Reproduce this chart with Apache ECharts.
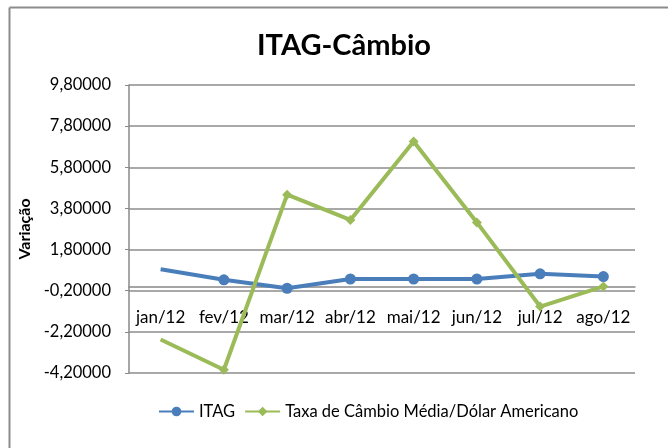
<!DOCTYPE html>
<html><head><meta charset="utf-8">
<script src="https://cdn.jsdelivr.net/npm/echarts@6/dist/echarts.min.js"></script>
<style>html,body{margin:0;padding:0;background:#fff}#c{width:668px;height:448px}</style>
</head><body><div id="c"></div>
<script>
const categories = ['jan/12','fev/12','mar/12','abr/12','mai/12','jun/12','jul/12','ago/12'];
const itag = [0.84, 0.33, -0.08, 0.37, 0.37, 0.37, 0.62, 0.49];
const cambio = [-2.57, -4.04, 4.47, 3.24, 7.05, 3.12, -0.97, 0.01];
const seriesNames = ['ITAG', 'Taxa de Câmbio Média/Dólar Americano'];
const title = 'ITAG-Câmbio';
const yName = 'Variação';

const chart = echarts.init(document.getElementById('c'), null, {renderer:'canvas'});
const F = 'Lato, "Open Sans", sans-serif';
const noFirst = arr => arr.map((v,i)=> i===0 ? {value:v, symbol:'none'} : v);
chart.setOption({
  animation:false,
  backgroundColor:'#fff',
  title:{text:title,left:339,textAlign:'center',top:26,textStyle:{fontFamily:F,fontWeight:'bold',fontSize:29,color:'#000'}},
  legend:{left:153,top:398,itemWidth:35,itemHeight:12,itemGap:9,textStyle:{fontFamily:F,fontSize:16.5,color:'#000'},
    data:seriesNames},
  grid:{left:129,right:33,top:85,bottom:75,containLabel:false},
  xAxis:{type:'category',data:categories,boundaryGap:true,
    axisLine:{onZero:true,lineStyle:{color:'#888',width:1.5}},
    axisTick:{show:false},
    axisLabel:{fontFamily:F,fontSize:17,color:'#000',margin:-64,interval:0}},
  yAxis:{type:'value',min:-4.2,max:9.8,interval:2,
    name:yName,nameLocation:'middle',nameGap:94,nameRotate:90,
    nameTextStyle:{fontFamily:F,fontWeight:'bold',fontSize:16,color:'#000'},
    axisLine:{show:true,lineStyle:{color:'#888',width:1.5}},
    axisTick:{show:true,length:4,lineStyle:{color:'#888'}},
    splitLine:{lineStyle:{color:'#8c8c8c',width:1.5}},
    axisLabel:{fontFamily:F,fontSize:16.5,color:'#000',margin:18,
      formatter:v=>v.toFixed(5).replace('.',',')}},
  series:[
    {name:seriesNames[0],type:'line',data:noFirst(itag),color:'#4a7ebb',
      lineStyle:{width:4},symbol:'circle',symbolSize:11,
      itemStyle:{color:'#4a7ebb'}},
    {name:seriesNames[1],type:'line',data:noFirst(cambio),color:'#9bbb59',
      lineStyle:{width:4},symbol:'diamond',symbolSize:10,
      itemStyle:{color:'#9bbb59'}}
  ],
  graphic:[
    {type:'line',shape:{x1:9.5,y1:7.5,x2:668,y2:7.5},style:{stroke:'#8c8c8c',lineWidth:2}},
    {type:'line',shape:{x1:9.5,y1:7.5,x2:9.5,y2:448},style:{stroke:'#8c8c8c',lineWidth:2}}
  ]
});
</script></body></html>
